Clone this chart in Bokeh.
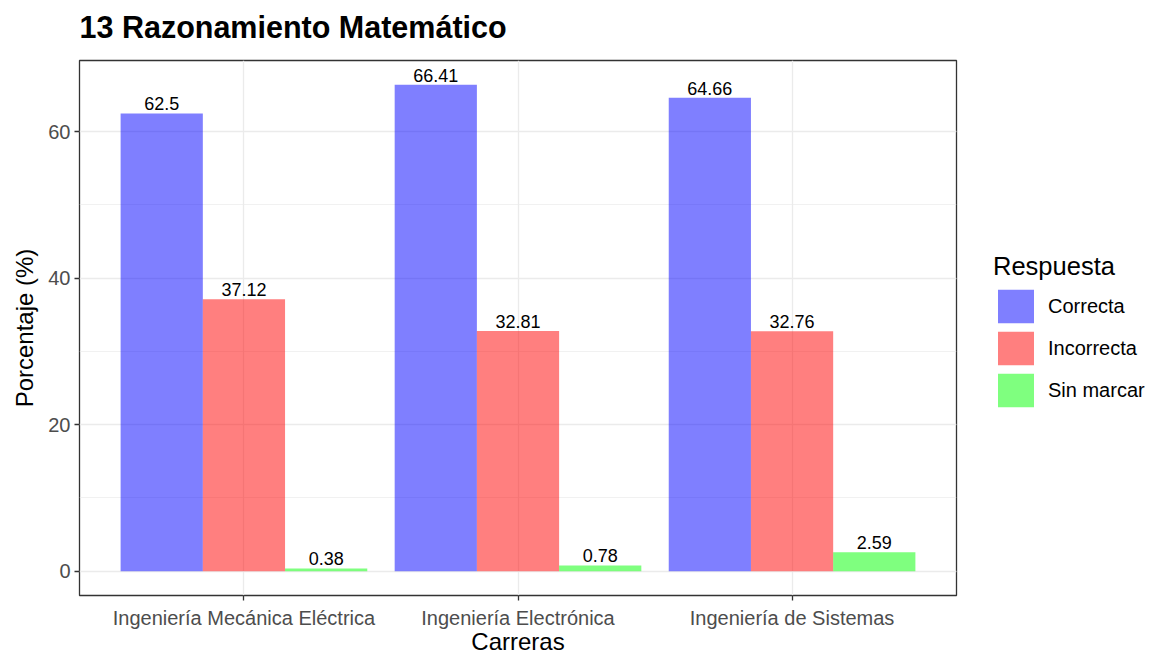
from bokeh.plotting import figure
from bokeh.layouts import row, column
from bokeh.models import (FactorRange, Range1d, Legend, LegendItem, ColumnDataSource,
                          SingleIntervalTicker, Label)
from bokeh.transform import dodge
from bokeh.core.properties import value
from bokeh.embed import file_html
from bokeh.resources import INLINE

titulo = "13 Razonamiento Matemático"
carreras = ["Ingeniería Mecánica Eléctrica", "Ingeniería Electrónica", "Ingeniería de Sistemas"]
respuestas = ["Correcta", "Incorrecta", "Sin marcar"]
correcta = [62.5, 66.41, 64.66]
incorrecta = [37.12, 32.81, 32.76]
sin_marcar = [0.38, 0.78, 2.59]
colores = ["#0000ff", "#ff0000", "#00ff00"]

FONT = "Liberation Sans"
W_MAIN, W_LEG = 968, 190
H_TITLE, H_MAIN = 50, 607


def bare(width, height):
    f = figure(width=width, height=height, output_backend="svg", toolbar_location=None,
               x_range=Range1d(0, 1), y_range=Range1d(0, 1),
               x_axis_location=None, y_axis_location=None, min_border=0)
    f.grid.visible = False
    f.outline_line_color = None
    f.background_fill_color = "white"
    f.border_fill_color = "white"
    return f


# title strip
t = bare(W_MAIN + W_LEG, H_TITLE)
t.add_layout(Label(x=79, y=7, x_units="screen", y_units="screen", text=titulo,
                   text_font=FONT, text_font_size="30.5px", text_font_style="bold",
                   text_color="#000000", text_baseline="bottom", text_align="left"))

series = [correcta, incorrecta, sin_marcar]
ymax = max(max(s) for s in series)

p = figure(width=W_MAIN, height=H_MAIN, output_backend="svg", toolbar_location=None,
           x_range=FactorRange(*carreras, range_padding=0.1, range_padding_units="absolute"),
           y_range=Range1d(-0.05 * ymax, 1.05 * ymax),
           min_border_left=79, min_border_right=12, min_border_top=10, min_border_bottom=57)

p.background_fill_color = "white"
p.border_fill_color = "white"
p.outline_line_color = "#333333"
p.outline_line_width = 1.3

offsets = [-0.3, 0.0, 0.3]
for name, vals, col, off in zip(respuestas, series, colores, offsets):
    src = ColumnDataSource(dict(x=carreras, y=vals, lbl=[f"{v:g}" for v in vals]))
    p.vbar(x=dodge("x", off, range=p.x_range), top="y", bottom=0, width=0.3, source=src,
           fill_color=col, fill_alpha=0.5, line_color=None)
    p.text(x=dodge("x", off, range=p.x_range), y="y", text="lbl", source=src,
           text_align="center", text_baseline="bottom", y_offset=-3,
           text_font=value(FONT), text_font_size="18px", text_color="#000000")

# axes
p.yaxis.ticker = SingleIntervalTicker(interval=20, num_minor_ticks=2)
for ax in (p.xaxis[0], p.yaxis[0]):
    ax.axis_line_color = None
    ax.major_tick_in = 0
    ax.major_tick_out = 5
    ax.major_tick_line_color = "#333333"
    ax.major_tick_line_width = 1.3
    ax.minor_tick_line_color = None
    ax.major_label_text_font = FONT
    ax.major_label_text_font_size = "20px"
    ax.major_label_text_color = "#4d4d4d"
    ax.axis_label_text_font = FONT
    ax.axis_label_text_font_size = "24px"
    ax.axis_label_text_font_style = "normal"
    ax.axis_label_text_color = "#000000"

p.xaxis.axis_label = "Carreras"
p.yaxis.axis_label = "Porcentaje (%)"
p.xaxis.major_label_standoff = 6
p.xaxis.axis_label_standoff = -4
p.yaxis.major_label_standoff = 4
p.yaxis.axis_label_standoff = 7

p.xgrid.grid_line_color = "#ebebeb"
p.xgrid.grid_line_width = 1.3
p.ygrid.grid_line_color = "#ebebeb"
p.ygrid.grid_line_width = 1.3
p.ygrid.minor_grid_line_color = "#ebebeb"
p.ygrid.minor_grid_line_width = 0.7

# legend panel (separate figure to the right of the plot)
q = bare(W_LEG, H_MAIN)
items = []
for name, col in zip(respuestas, colores):
    # placeholder glyph outside the visible range, only used for the legend swatch
    r = q.vbar(x=[5], top=[5], bottom=[4], width=0.3, fill_color=col, fill_alpha=0.5, line_color=None)
    items.append(LegendItem(label=name, renderers=[r]))

legend = Legend(items=items, title="Respuesta", location=(25, 184),
                border_line_color=None, background_fill_color=None,
                padding=0, margin=0, spacing=0,
                glyph_width=45, glyph_height=42, label_standoff=10,
                label_text_font=FONT, label_text_font_size="20px", label_text_color="#000000",
                label_height=42,
                title_text_font=FONT, title_text_font_size="25.5px", title_text_font_style="normal",
                title_text_color="#000000", title_standoff=4)
q.add_layout(legend, "center")

layout = column(t, row(p, q, spacing=0), spacing=0)
open("out.html", "w").write(file_html(layout, INLINE))
